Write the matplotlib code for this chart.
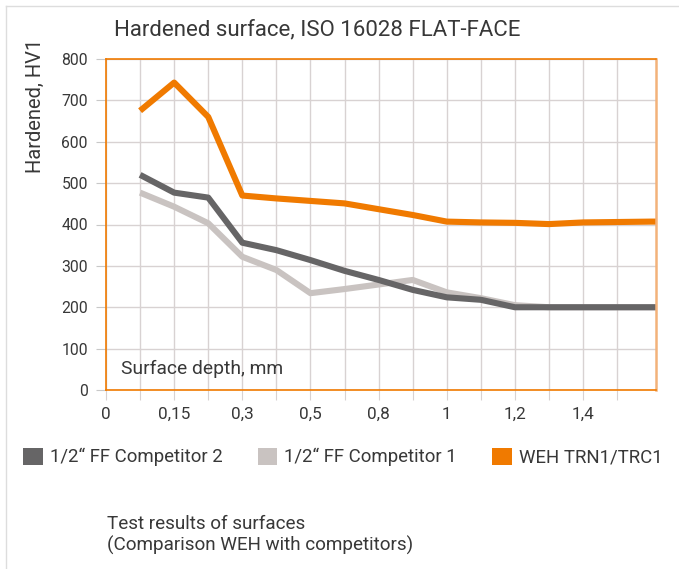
import matplotlib
matplotlib.use("Agg")
import matplotlib.pyplot as plt
from matplotlib.patches import Patch
from matplotlib.lines import Line2D

plt.rcParams['font.family'] = ['Roboto', 'DejaVu Sans']

# ---- data ----
x_index = [1, 2, 3, 4, 5, 6, 7, 8, 9, 10, 11, 12, 13, 14, 15, 16, 17]
weh = [675, 743, 660, 470, 463, 457, 451, 437, 423, 407, 405, 404, 401, 405, 406, 407, 407]
comp2 = [520, 477, 465, 356, 338, 314, 288, 266, 242, 224, 218, 200, 200, 200, 200, 200, 200]
comp1 = [477, 443, 403, 322, 290, 234, 244, 255, 266, 236, 222, 205, 200, 200, 200, 200, 200]
tick_positions = list(range(16))
tick_labels = ["0", "", "0,15", "", "0,3", "", "0,5", "", "0,8", "", "1", "", "1,2", "", "1,4", ""]
y_ticks = [0, 100, 200, 300, 400, 500, 600, 700, 800]
series_names = ["1/2\u201c FF Competitor 2", "1/2\u201c FF Competitor 1", "WEH TRN1/TRC1"]

ORANGE = "#f07a00"
DARK = "#666566"
LIGHT = "#c9c3c1"
GRID = "#d8d2d2"
TEXT = "#383838"

W, H = 679, 569
fig = plt.figure(figsize=(W / 100, H / 100), dpi=100)
ax = fig.add_axes([106 / W, 1 - 390 / H, (656 - 106) / W, (390 - 59) / H])

ax.plot(x_index, comp1, color=LIGHT, lw=4.4, solid_joinstyle='round', solid_capstyle='butt', zorder=3)
ax.plot(x_index, comp2, color=DARK, lw=4.4, solid_joinstyle='round', solid_capstyle='butt', zorder=4)
ax.plot(x_index, weh, color=ORANGE, lw=4.4, solid_joinstyle='round', solid_capstyle='butt', zorder=5)

ax.set_xlim(0, 16.14)
ax.set_ylim(0, 800)
ax.set_xticks(tick_positions)
ax.set_xticklabels(tick_labels)
ax.set_yticks(y_ticks)
ax.tick_params(axis='x', length=7, width=0.8, color=GRID, labelsize=12.3, labelcolor=TEXT, pad=5)
ax.tick_params(axis='y', length=7, width=0.8, color="#c8c8c8", labelsize=11.3, labelcolor=TEXT, pad=6)
ax.grid(True, color=GRID, lw=1.0, zorder=1)
ax.set_axisbelow(True)
for s in ax.spines.values():
    s.set_color(ORANGE)
    s.set_linewidth(1.2)
    s.set_zorder(6)
ax.spines['right'].set_color("#f3b27a")
ax.spines['right'].set_linewidth(1.8)

fig.text(121 / W, 1 - 369 / H, "Surface depth, mm", fontsize=13.9, color=TEXT, va='center', ha='left')
fig.text(114 / W, 1 - 30 / H, "Hardened surface, ISO 16028 FLAT-FACE", fontsize=16, color=TEXT, va='center', ha='left')
fig.text(35 / W, 1 - 106 / H, "Hardened, HV1", fontsize=14.5, color=TEXT, va='center', ha='center', rotation=90)

handles = [Patch(facecolor=DARK, edgecolor='none'),
           Patch(facecolor=LIGHT, edgecolor='none'),
           Patch(facecolor=ORANGE, edgecolor='none')]
fig.legend(handles, series_names, loc='center left', bbox_to_anchor=(23 / W, 1 - 457 / H), ncol=3,
           frameon=False, handlelength=1.05, handleheight=1.05, handletextpad=0.38, columnspacing=1.9,
           prop={'size': 13.4}, labelcolor=TEXT, borderaxespad=0, borderpad=0)

fig.text(107 / W, 1 - 535 / H, "Test results of surfaces\n(Comparison WEH with competitors)", fontsize=13.6,
         color=TEXT, va='center', ha='left', linespacing=1.25)

# outer frame (top and left edges)
fig.add_artist(Line2D([6 / W, 6 / W], [0, 1 - 6 / H], transform=fig.transFigure, color="#dddddd", lw=1))
fig.add_artist(Line2D([6 / W, 1], [1 - 6 / H, 1 - 6 / H], transform=fig.transFigure, color="#dddddd", lw=1))

fig.savefig("out.png", dpi=100)
